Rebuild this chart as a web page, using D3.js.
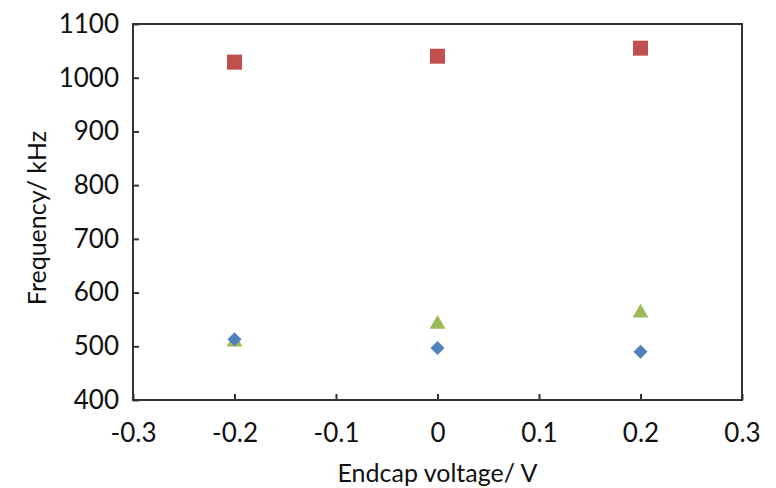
<!DOCTYPE html>
<html><head><meta charset="utf-8">
<script src="https://cdn.jsdelivr.net/npm/d3@7"></script>
<style>body{margin:0;background:#fff}svg{display:block}</style>
</head><body>
<svg id="c" width="776" height="488"></svg>
<script>
const xValues = [-0.2, 0, 0.2];
const squareSeries = [1029, 1040, 1055];
const diamondSeries = [513, 497, 490];
const triangleSeries = [508, 541, 562];
const xTicks = [-0.3, -0.2, -0.1, 0, 0.1, 0.2, 0.3];
const yTicks = [400, 500, 600, 700, 800, 900, 1000, 1100];
const xTitle = "Endcap voltage/ V";
const yTitle = "Frequency/ kHz";

const svg = d3.select("#c");
const m = {l:133, r:742, t:24, b:400};
const x = d3.scaleLinear().domain([-0.3,0.3]).range([m.l,m.r]);
const y = d3.scaleLinear().domain([400,1100]).range([m.b,m.t]);
const font = "Lato, 'Open Sans', sans-serif";

svg.append("rect").attr("x",m.l).attr("y",m.t).attr("width",m.r-m.l).attr("height",m.b-m.t)
  .attr("fill","none").attr("stroke","#333").attr("stroke-width",2);

const xa = svg.append("g").attr("transform",`translate(0,${m.b})`)
  .call(d3.axisBottom(x).tickValues(xTicks).tickSizeInner(-6).tickSizeOuter(0).tickPadding(24)
    .tickFormat(d=>d===0?"0":(d<0?"-":"")+Math.abs(d).toFixed(1)));
const ya = svg.append("g").attr("transform",`translate(${m.l},0)`)
  .call(d3.axisLeft(y).tickValues(yTicks).tickSizeInner(-6).tickSizeOuter(0).tickPadding(14).tickFormat(d=>String(d)));
[xa,ya].forEach(a=>{
  a.select(".domain").remove();
  a.selectAll("line").attr("stroke","#333").attr("stroke-width",2);
  a.selectAll("text").attr("font-family",font).attr("font-size",26).attr("fill","#111");
});
xa.selectAll("text").attr("dy","0.71em");

svg.append("text").attr("x",(m.l+m.r)/2).attr("y",482).attr("text-anchor","middle")
  .attr("font-family",font).attr("font-size",25).attr("fill","#111").text(xTitle);
svg.append("text").attr("transform",`translate(46,${(m.t+m.b)/2+6}) rotate(-90)`).attr("text-anchor","middle")
  .attr("font-family",font).attr("font-size",25).attr("fill","#111").text(yTitle);

const g = svg.append("g");
g.selectAll(".tri").data(xValues.map((v,i)=>[v,triangleSeries[i]])).join("path")
  .attr("d",d3.symbol(d3.symbolTriangle,110)())
  .attr("transform",d=>`translate(${x(d[0])},${y(d[1])})`).attr("fill","#9BBB59");
g.selectAll(".dia").data(xValues.map((v,i)=>[v,diamondSeries[i]])).join("path")
  .attr("d","M0,-7L7,0L0,7L-7,0Z")
  .attr("transform",d=>`translate(${x(d[0])},${y(d[1])})`).attr("fill","#4F81BD");
g.selectAll(".sq").data(xValues.map((v,i)=>[v,squareSeries[i]])).join("rect")
  .attr("x",d=>x(d[0])-7.5).attr("y",d=>y(d[1])-7.5).attr("width",15).attr("height",15)
  .attr("fill","#C0504D");
</script>
</body></html>
